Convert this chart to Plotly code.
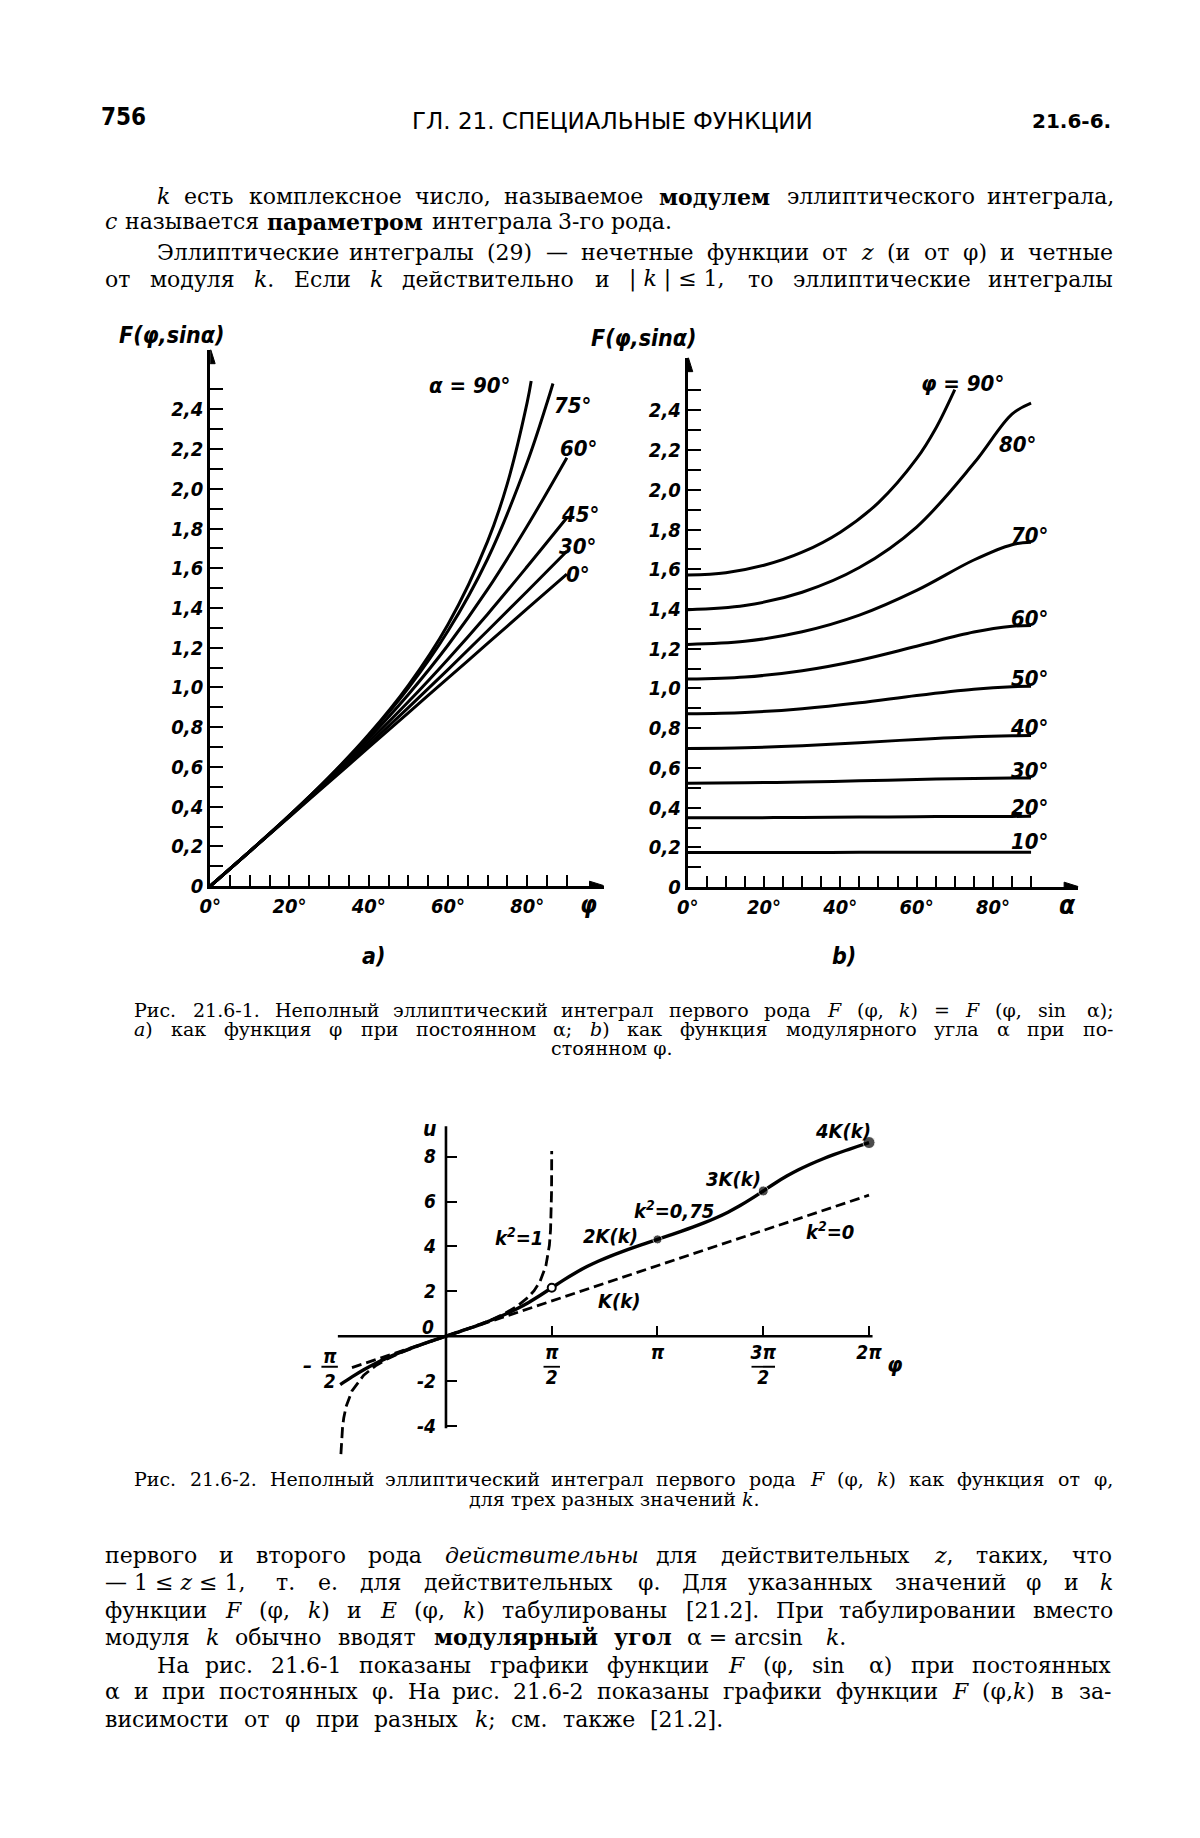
import re
import plotly.graph_objects as go

W, H = 1200, 1838

# ------------------------------------------------------------------ data
# F(phi, sin alpha) read for phi = 0..90 deg (panel a and b)
phi_deg = [0, 10, 20, 30, 40, 50, 60, 70, 80, 90]
F_alpha0 = [0, 0.1745, 0.3491, 0.5236, 0.6981, 0.8727, 1.0472, 1.2217, 1.3963, 1.5708]
F_alpha15 = [0, 0.1746, 0.3495, 0.5251, 0.7016, 0.8792, 1.0577, 1.2373, 1.4175, 1.5981]
F_alpha30 = [0, 0.1748, 0.3508, 0.5294, 0.7116, 0.8983, 1.0896, 1.2853, 1.4845, 1.6858]
F_alpha45 = [0, 0.1752, 0.3526, 0.5352, 0.7267, 0.9280, 1.1425, 1.3690, 1.6086, 1.8541]
F_alpha60 = [0, 0.1755, 0.3545, 0.5422, 0.7436, 0.9650, 1.2126, 1.4935, 1.8125, 2.1565]
F_alpha75 = [0, 0.1757, 0.3559, 0.5474, 0.7575, 0.9965, 1.2839, 1.6466, 2.1332]
F_alpha85 = [0, 0.1754, 0.3563, 0.5489, 0.7622, 1.0090, 1.3129, 1.7237, 2.3810]
F_alpha90 = [0, 0.1754, 0.3564, 0.5493, 0.7629, 1.0107, 1.3170, 1.7354, 2.4362]
# upper ends of the two steepest curves in panel a
phi_alpha75_tail = [85, 86.5]
F_alpha75_tail = [2.433, 2.530]
phi_alpha90_a = [0, 10, 20, 30, 40, 50, 60, 70, 75, 80, 81]
F_alpha90_a = [0, 0.1754, 0.3564, 0.5493, 0.7629, 1.0107, 1.3170, 1.7354, 2.0276, 2.4362, 2.542]

alpha_curves_a = [0, 30, 45, 60]
alpha_labels_a = ["0°", "30°", "45°", "60°", "75°", "α = 90°"]

# panel b: modular angle grid and phi levels
alpha_b = [0, 15, 30, 45, 60, 75, 85, 90]
phi_levels_b = [10, 20, 30, 40, 50, 60, 70, 80]
alpha_K = [0, 10, 20, 30, 40, 50, 60, 65, 70]
K_alpha = [1.5708, 1.5828, 1.6200, 1.6858, 1.7868, 1.9356, 2.1565, 2.3088, 2.5046]

# panel c: F(phi, k) vs phi (degrees)
phi_c = [-90, -80, -70, -60, -50, -40, -30, -20, -10, 0, 10, 20, 30, 40, 50, 60, 70, 80, 90,
         100, 110, 120, 130, 140, 150, 160, 170, 180, 190, 200, 210, 220, 230, 240, 250, 260,
         270, 280, 290, 300, 310, 320, 330, 340, 350, 360]
u_k075 = [-2.1565, -1.8125, -1.4935, -1.2126, -0.9650, -0.7436, -0.5422, -0.3545, -0.1755, 0,
          0.1755, 0.3545, 0.5422, 0.7436, 0.9650, 1.2126, 1.4935, 1.8125, 2.1565,
          2.5005, 2.8195, 3.1004, 3.3480, 3.5694, 3.7708, 3.9585, 4.1375, 4.3130,
          4.4885, 4.6675, 4.8552, 5.0566, 5.2780, 5.5256, 5.8065, 6.1255, 6.4695,
          6.8135, 7.1325, 7.4134, 7.6610, 7.8824, 8.0838, 8.2715, 8.4505, 8.6260]
phi_k1 = [-89.4, -89, -88, -87, -85, -80, -70, -60, -50, -40, -30, -20, -10, 0,
          10, 20, 30, 40, 50, 60, 70, 75, 80, 85, 87, 88, 89, 89.5, 89.8, 89.9, 89.95, 89.97]
u_k1 = [-5.2523, -4.7413, -4.0481, -3.6425, -3.1313, -2.4362, -1.7354, -1.3170, -1.0107,
        -0.7629, -0.5493, -0.3564, -0.1754, 0,
        0.1754, 0.3564, 0.5493, 0.7629, 1.0107, 1.3170, 1.7354, 2.0276, 2.4362, 3.1313,
        3.6425, 4.0481, 4.7413, 5.4345, 6.3508, 7.0440, 7.7371, 8.2479]
phi_k0 = [-80, 360]
u_k0 = [-1.3963, 6.2832]
phi_marks_filled = [180, 270, 360]
phi_marks_open = [90]

# ------------------------------------------------------------------ geometry
A_O = (201, 892); A_SX = 4.0; A_SY = 200.0; A_XEND = 598; A_YTOP = 352
B_O = (683, 893); B_SX = 3.85; B_SY = 200.0; B_XEND = 1077; B_YTOP = 360
C_O = (439, 1345); C_SX = 1.186; C_SY = 22.6; C_XR = [-125, 392]; C_YR = [-5.6, 9.8]


def px(x):
    return x / W


def py(y):
    return 1 - y / H


INK = "black"
LBL = "DejaVu Sans Condensed, Liberation Sans Narrow, DejaVu Sans"
BODY = "DejaVu Serif"


def lfont(size, weight="bold"):
    return dict(family=LBL, size=size, color=INK, style="italic", weight=weight)


fig = go.Figure()
LW = 3.0

# ---------------- panel a
for a, F in zip(alpha_curves_a, [F_alpha0, F_alpha30, F_alpha45, F_alpha60]):
    fig.add_trace(go.Scatter(x=phi_deg, y=F, mode="lines", line=dict(color=INK, width=LW, shape="spline"),
                             xaxis="x", yaxis="y", showlegend=False, hoverinfo="skip"))
fig.add_trace(go.Scatter(x=phi_deg[:9] + phi_alpha75_tail, y=F_alpha75 + F_alpha75_tail, mode="lines",
                         line=dict(color=INK, width=LW, shape="spline"), xaxis="x", yaxis="y",
                         showlegend=False, hoverinfo="skip"))
fig.add_trace(go.Scatter(x=phi_alpha90_a, y=F_alpha90_a, mode="lines",
                         line=dict(color=INK, width=LW, shape="spline"), xaxis="x", yaxis="y",
                         showlegend=False, hoverinfo="skip"))

# ---------------- panel b
table = [F_alpha0, F_alpha15, F_alpha30, F_alpha45, F_alpha60, F_alpha75, F_alpha85, F_alpha90]
for phi in phi_levels_b:
    j = phi_deg.index(phi)
    fig.add_trace(go.Scatter(x=alpha_b, y=[row[j] for row in table], mode="lines",
                             line=dict(color=INK, width=LW, shape="spline"), xaxis="x2", yaxis="y2",
                             showlegend=False, hoverinfo="skip"))
fig.add_trace(go.Scatter(x=alpha_K, y=K_alpha, mode="lines", line=dict(color=INK, width=LW, shape="spline"),
                         xaxis="x2", yaxis="y2", showlegend=False, hoverinfo="skip"))

# ---------------- panel c
fig.add_trace(go.Scatter(x=phi_k0, y=u_k0, mode="lines", line=dict(color=INK, width=2.8, dash="10px,5px"),
                         xaxis="x3", yaxis="y3", showlegend=False, hoverinfo="skip"))
fig.add_trace(go.Scatter(x=phi_k1, y=u_k1, mode="lines", line=dict(color=INK, width=2.8, dash="11px,5px"),
                         xaxis="x3", yaxis="y3", showlegend=False, hoverinfo="skip"))
fig.add_trace(go.Scatter(x=phi_c, y=u_k075, mode="lines", line=dict(color=INK, width=3.4, shape="spline"),
                         xaxis="x3", yaxis="y3", showlegend=False, hoverinfo="skip"))
fig.add_trace(go.Scatter(x=phi_marks_filled, y=[u_k075[phi_c.index(p)] for p in phi_marks_filled],
                         mode="markers", marker=dict(color=INK, size=[9, 10, 12]),
                         xaxis="x3", yaxis="y3", showlegend=False, hoverinfo="skip"))
fig.add_trace(go.Scatter(x=phi_marks_open, y=[u_k075[phi_c.index(p)] for p in phi_marks_open],
                         mode="markers", marker=dict(color="white", size=8, line=dict(color=INK, width=2)),
                         xaxis="x3", yaxis="y3", showlegend=False, hoverinfo="skip"))


# ------------------------------------------------------------------ axes
def yticks_lbl(vals):
    return [("0" if v == 0 else f"{v:.1f}".replace(".", ",")) for v in vals]


yt = [0, 0.2, 0.4, 0.6, 0.8, 1.0, 1.2, 1.4, 1.6, 1.8, 2.0, 2.2, 2.4]
ymin = [0.1, 0.3, 0.5, 0.7, 0.9, 1.1, 1.3, 1.5, 1.7, 1.9, 2.1, 2.3, 2.5]
xt = [0, 20, 40, 60, 80]
xmin = [5, 10, 15, 25, 30, 35, 45, 50, 55, 65, 70, 75, 85, 90]

common_x = dict(showgrid=False, zeroline=False, showline=True, linecolor=INK, linewidth=3,
                ticks="inside", ticklen=11, tickwidth=2.4, tickcolor=INK,
                tickvals=xt, ticktext=[f"{v}°" for v in xt], tickfont=lfont(20),
                minor=dict(tickvals=xmin, ticks="inside", ticklen=11, tickwidth=2.4, tickcolor=INK))
common_y = dict(showgrid=False, zeroline=False, showline=True, linecolor=INK, linewidth=3,
                ticks="inside", ticklen=13, tickwidth=2.4, tickcolor=INK,
                tickvals=yt, ticktext=yticks_lbl(yt), tickfont=lfont(20),
                minor=dict(tickvals=ymin, ticks="inside", ticklen=13, tickwidth=2.4, tickcolor=INK))

fig.update_layout(
    xaxis=dict(domain=[px(A_O[0]), px(A_XEND)], range=[0, (A_XEND - A_O[0]) / A_SX], anchor="y", **common_x),
    yaxis=dict(domain=[py(A_O[1]), py(A_YTOP)], range=[0, (A_O[1] - A_YTOP) / A_SY], anchor="x", **common_y),
    xaxis2=dict(domain=[px(B_O[0]), px(B_XEND)], range=[0, (B_XEND - B_O[0]) / B_SX], anchor="y2", **common_x),
    yaxis2=dict(domain=[py(B_O[1]), py(B_YTOP)], range=[0, (B_O[1] - B_YTOP) / B_SY], anchor="x2", **common_y),
    xaxis3=dict(domain=[px(C_O[0] + C_XR[0] * C_SX), px(C_O[0] + C_XR[1] * C_SX)], range=C_XR,
                anchor="free", position=py(C_O[1]), showgrid=False, zeroline=False, showline=False,
                ticks="inside", ticklen=10, tickwidth=2.4, tickcolor=INK,
                tickvals=[90, 180, 270, 360], ticktext=["π<br>2", "π", "3π<br>2", "2π"],
                tickfont=lfont(19), ticklabelstandoff=3),
    yaxis3=dict(domain=[py(C_O[1] - C_YR[0] * C_SY), py(C_O[1] - C_YR[1] * C_SY)], range=C_YR,
                anchor="free", position=px(C_O[0]), showgrid=False, zeroline=False, showline=False,
                ticks="inside", ticklen=10, tickwidth=2.4, tickcolor=INK,
                tickvals=[-4, -2, 2, 4, 6, 8], ticktext=["-4", "-2", "2", "4", "6", "8"],
                tickfont=lfont(19), ticklabelstandoff=10),
)

shapes = [
    dict(type="line", xref="x3", yref="y3", x0=-92, y0=0, x1=363, y1=0, line=dict(color=INK, width=2.6)),
    dict(type="line", xref="x3", yref="y3", x0=0, y0=-4.1, x1=0, y1=9.35, line=dict(color=INK, width=2.6)),
]
# fraction bars of the pi/2 style tick labels
for xc, half in [(90, 7), (270, 10), (-99, 7)]:
    shapes.append(dict(type="line", xref="x3", yref="y3", x0=xc - half, x1=xc + half, y0=-1.36, y1=-1.36,
                       line=dict(color=INK, width=1.8)))
# arrowheads at the ends of the axes of panels a and b
for xr, yr, xe in [("x", "y", (A_XEND - A_O[0]) / A_SX), ("x2", "y2", (B_XEND - B_O[0]) / B_SX)]:
    shapes.append(dict(type="path", xref=xr, yref=yr, xsizemode="pixel", ysizemode="pixel",
                       xanchor=xe, yanchor=0, path="M 2 0 L -14 5 L -14 -5 Z",
                       fillcolor=INK, line=dict(color=INK, width=1)))
for xr, yr, ye in [("x", "y", (A_O[1] - A_YTOP) / A_SY), ("x2", "y2", (B_O[1] - B_YTOP) / B_SY)]:
    shapes.append(dict(type="path", xref=xr, yref=yr, xsizemode="pixel", ysizemode="pixel",
                       xanchor=0, yanchor=ye, path="M 0 2 L -5 -14 L 5 -14 Z",
                       fillcolor=INK, line=dict(color=INK, width=1)))

ann = []


def dlab(xr, yr, x, y, s, size=22, anchor="center"):
    ann.append(dict(xref=xr, yref=yr, x=x, y=y, text=s, showarrow=False, xanchor=anchor, yanchor="middle",
                    font=lfont(size)))


# panel a labels
for s, x, y in zip(alpha_labels_a, [92.7, 92.7, 93.2, 93, 91.5, 65.5], [1.57, 1.71, 1.87, 2.205, 2.42, 2.52]):
    dlab("x", "y", x, y, s)
# panel b labels
dlab("x2", "y2", 72, 2.535, "φ = 90°")
dlab("x2", "y2", 86.5, 2.23, "80°")
for phi, yoff in zip([70, 60, 50, 40, 30, 20, 10], [1.77, 1.35, 1.05, 0.805, 0.585, 0.40, 0.23]):
    dlab("x2", "y2", 89.5, yoff, f"{phi}°")
# panel c labels
dlab("x3", "y3", 338, 9.15, "4K(<i>k</i>)", 20)
dlab("x3", "y3", 245, 7.0, "3K(<i>k</i>)", 20)
dlab("x3", "y3", 194, 5.6, "<i>k</i><sup>2</sup>=0,75", 20)
dlab("x3", "y3", 140, 4.45, "2K(<i>k</i>)", 20)
dlab("x3", "y3", 62, 4.4, "<i>k</i><sup>2</sup>=1", 20)
dlab("x3", "y3", 327, 4.7, "<i>k</i><sup>2</sup>=0", 20)
dlab("x3", "y3", 147, 1.55, "K(<i>k</i>)", 20)
dlab("x3", "y3", -14, 9.25, "u", 21)
dlab("x3", "y3", -15, 0.4, "0", 19)
dlab("x3", "y3", 382, -1.25, "φ", 22)
dlab("x3", "y3", -118, -1.3, "–", 20)
dlab("x3", "y3", -99, -1.42, "π<br>2", 19)

# ------------------------------------------------------------------ page text
EM = {' ': .318, '\u00a0': .318, '.': .318, ',': .318, ';': .337, ':': .337, '(': .39, ')': .39,
      '[': .39, ']': .39, '|': .337, '-': .338, '—': 1.0, '≤': .838, 'φ': .70, 'α': .66, '=': .838,
      'а': .60, 'б': .61, 'в': .60, 'г': .52, 'д': .66, 'е': .59, 'ж': .90, 'з': .54, 'и': .66,
      'й': .66, 'к': .62, 'л': .64, 'м': .78, 'н': .66, 'о': .60, 'п': .66, 'р': .64, 'с': .55,
      'т': .56, 'у': .57, 'ф': .84, 'х': .60, 'ц': .67, 'ч': .63, 'ш': .93, 'щ': .94, 'ъ': .66,
      'ы': .86, 'ь': .60, 'э': .56, 'ю': .88, 'я': .62}


def est(word, size):
    plain = re.sub(r"<[^>]+>", "", word)
    w = 0.0
    for ch in plain:
        if ch in EM:
            w += EM[ch]
        elif ch.isdigit():
            w += .636
        elif ch.isupper():
            w += .74
        else:
            w += .58
    if "<b>" in word:
        w *= 1.12
    if "<i>" in word and len(plain) > 3:
        w *= 1.06
    return w * size


def ptxt(x, y, s, size, family=BODY, anchor="left", weight="normal", style="normal"):
    ann.append(dict(xref="paper", yref="paper", x=px(x), y=py(y), text=s, showarrow=False,
                    xanchor=anchor, yanchor="middle", borderpad=0,
                    font=dict(family=family, size=size, color=INK, weight=weight, style=style)))


def jline(x0, x1, y, line, size):
    words = line.split(" ")
    widths = [est(w, size) for w in words]
    gap = (x1 - x0 - sum(widths)) / max(len(words) - 1, 1)
    gap = max(gap, 0.33 * size)
    x = x0
    for w, wd in zip(words, widths):
        ptxt(x, y, w, size)
        x += wd + gap


# axis titles and panel tags
ptxt(162, 337, "F(φ,sinα)", 23, LBL, "center", "bold", "italic")
ptxt(638, 340, "F(φ,sinα)", 23, LBL, "center", "bold", "italic")
ptxt(583, 911, "φ", 24, LBL, "center", "bold", "italic")
ptxt(1066, 911, "α", 26, LBL, "center", "bold", "italic")
ptxt(366, 962, "a)", 23, LBL, "center", "bold", "italic")
ptxt(841, 962, "b)", 23, LBL, "center", "bold", "italic")

# page header
ptxt(90, 118, "756", 24, "DejaVu Sans Condensed, DejaVu Sans", "left", "bold")
ptxt(607, 122, "ГЛ. 21. СПЕЦИАЛЬНЫЕ ФУНКЦИИ", 23, "DejaVu Sans", "center")
ptxt(1111, 122, "21.6-6.", 20, "DejaVu Sans", "right", "bold")

BS = 22
NB = "\u00a0"
body1 = [
    (146, 1111, 198, "<i>k</i> есть комплексное число, называемое <b>модулем</b> эллиптического интеграла,"),
    (94, 650, 223, "<i>c</i> называется <b>параметром</b> интеграла 3-го рода."),
    (146, 1111, 254, "Эллиптические интегралы (29) — нечетные функции от <i>z</i> (и от φ) и четные"),
    (94, 1111, 281, f"от модуля <i>k</i>. Если <i>k</i> действительно и |{NB}<i>k</i>{NB}|{NB}≤{NB}1, то эллиптические интегралы"),
]
for x0, x1, y, s in body1:
    jline(x0, x1, y, s, BS)

CS = 19
jline(123, 1111, 1017, "Рис. 21.6-1. Неполный эллиптический интеграл первого рода <i>F</i> (φ, <i>k</i>) = <i>F</i> (φ, sin α);", CS)
jline(123, 1111, 1036, "<i>a</i>) как функция φ при постоянном α; <i>b</i>) как функция модулярного угла α при по-", CS)
ptxt(607, 1055, "стоянном φ.", CS, anchor="center")
jline(123, 1111, 1489, "Рис. 21.6-2. Неполный эллиптический интеграл первого рода <i>F</i> (φ, <i>k</i>) как функция от φ,", CS)
ptxt(609, 1509, "для трех разных значений <i>k</i>.", CS, anchor="center")

body2 = [
    (94, 1109, 1566, "первого и второго рода <i>действительны</i> для действительных <i>z</i>, таких, что"),
    (94, 1111, 1593, f"—{NB}1{NB}≤{NB}<i>z</i>{NB}≤{NB}1, т. е. для действительных φ. Для указанных значений φ и <i>k</i>"),
    (94, 1111, 1621, "функции <i>F</i> (φ, <i>k</i>) и <i>E</i> (φ, <i>k</i>) табулированы [21.2]. При табулировании вместо"),
    (94, 841, 1648, f"модуля <i>k</i> обычно вводят <b>модулярный</b> <b>угол</b> α{NB}={NB}arcsin <i>k</i>."),
    (146, 1109, 1676, "На рис. 21.6-1 показаны графики функции <i>F</i> (φ, sin α) при постоянных"),
    (94, 1109, 1703, "α и при постоянных φ. На рис. 21.6-2 показаны графики функции <i>F</i> (φ,<i>k</i>) в за-"),
    (94, 717, 1731, "висимости от φ при разных <i>k</i>; см. также [21.2]."),
]
for x0, x1, y, s in body2:
    jline(x0, x1, y, s, BS)

fig.update_layout(
    width=W, height=H, autosize=False,
    margin=dict(l=0, r=0, t=0, b=0),
    paper_bgcolor="white", plot_bgcolor="white",
    font=dict(color=INK, family=BODY),
    showlegend=False,
    annotations=ann, shapes=shapes,
)

fig.write_html("out.html", config={"displayModeBar": False},
               post_script="document.body.style.margin='0';document.body.style.overflow='hidden';")
